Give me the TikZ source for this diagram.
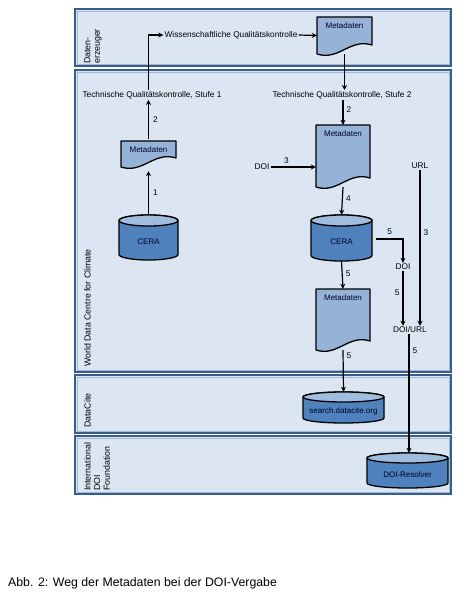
\documentclass[tikz,border=0pt]{standalone}
\usepackage{fontspec}
\setmainfont{Liberation Sans}
\usetikzlibrary{arrows.meta,calc}
\definecolor{lanefill}{RGB}{220,230,242}
\definecolor{laneline}{RGB}{56,93,138}
\definecolor{laneinner}{RGB}{160,185,215}
\definecolor{docfill}{RGB}{149,179,215}
\definecolor{cylbody}{RGB}{79,129,189}
\definecolor{cyltop}{RGB}{160,188,222}
\tikzset{
  lane/.style={draw=laneline,line width=1.3pt,fill=lanefill},
  laneinnerline/.style={draw=laneinner,line width=0.5pt},
  lanelabel/.style={rotate=90,anchor=north west,align=left,font=\fontsize{8.8}{9.6}\selectfont,inner sep=0pt},
  txt/.style={font=\fontsize{8.3}{9.6}\selectfont,inner sep=1pt},
  shapetxt/.style={font=\fontsize{8}{9}\selectfont,text=black!85!blue,inner sep=0pt},
  box/.style={inner sep=0pt,draw=none},
  outline/.style={draw=black,line width=1.3pt},
  arr/.style={draw=black,line width=1.2pt,-{Stealth[length=5pt,width=5pt]}},
  ln/.style={draw=black,line width=1.2pt},
  num/.style={font=\fontsize{8.3}{9.6}\selectfont,inner sep=0pt}
}
% document shape: name, x1, y1, x2, y2 (pixel coords, y downward)
\newcommand\docshape[5]{%
  \pgfmathsetmacro\dw{#4-#2}%
  \pgfmathsetmacro\dh{#5-#3}%
  \node[box,minimum width=\dw pt,minimum height=\dh pt] (#1) at ({(#2+#4)/2},{-(#3+#5)/2}) {};
  \filldraw[outline,fill=docfill,line join=round]
    (#2,-#3) -- (#4,-#3) -- (#4,{-(#5-9)})
    .. controls ({#2+0.6*\dw},{-(#5-16)}) and ({#2+0.4*\dw},{-(#5+7)}) .. (#2,-#5) -- cycle;
  \node[shapetxt] at ({(#2+#4)/2},{-(#3+8.5)}) {Metadaten};
}
% cylinder: name, x1, y1, x2, y2, text, ry
\newcommand\cylshape[7]{%
  \pgfmathsetmacro\cw{#4-#2}%
  \pgfmathsetmacro\ch{#5-#3}%
  \pgfmathsetmacro\rx{(#4-#2)/2}%
  \node[box,minimum width=\cw pt,minimum height=\ch pt] (#1) at ({(#2+#4)/2},{-(#3+#5)/2}) {};
  \filldraw[outline,fill=cylbody]
    (#2,{-(#3+#7)}) -- (#2,{-(#5-#7)})
    arc[start angle=180,end angle=360,x radius=\rx,y radius=#7]
    -- (#4,{-(#3+#7)})
    arc[start angle=0,end angle=180,x radius=\rx,y radius=#7] -- cycle;
  \filldraw[outline,fill=cyltop] ({(#2+#4)/2},{-(#3+#7)}) ellipse[x radius=\rx,y radius=#7];
  \node[shapetxt] at ({(#2+#4)/2},{-(#3+#5)/2-4}) {#6};
}
\begin{document}
\begin{tikzpicture}[x=1pt,y=1pt]
\useasboundingbox (0,0) rectangle (463,-596);
\fill[white] (0,0) rectangle (463,-596);
% lanes
\path[lane] (75,-9) rectangle (451,-66);
\path[laneinnerline] (77,-11) rectangle (449,-64);
\path[lane] (75,-70) rectangle (451,-372);
\path[laneinnerline] (77,-72) rectangle (449,-370);
\path[lane] (75,-375) rectangle (451,-433);
\path[laneinnerline] (77,-377) rectangle (449,-431);
\path[lane] (75,-436) rectangle (451,-494);
\path[laneinnerline] (77,-438) rectangle (449,-492);
\node[lanelabel] (lab1) at (84,-64) {Daten-\\erzeuger};
\node[lanelabel] (lab2) at (84,-367) {World Data Centre for Climate};
\node[lanelabel] (lab3) at (84,-428) {DataCite};
\node[lanelabel] (lab4) at (84,-491) {International\\DOI\\Foundation};
% texts
\node[txt] (wq) at (231,-35) {Wissenschaftliche Qualitätskontrolle};
\node[txt] (tq1) at (152,-95) {Technische Qualitätskontrolle, Stufe 1};
\node[txt] (tq2) at (342,-95) {Technische Qualitätskontrolle, Stufe 2};
\node[txt] (doiL) at (262,-167) {DOI};
\node[txt] (url) at (420,-166) {URL};
\node[txt] (doi2) at (403,-267) {DOI};
\node[txt] (doiurl) at (410,-330) {DOI/URL};
% shapes
\docshape{md0}{317}{17}{372}{54}
\docshape{md1}{121}{141}{176}{167}
\docshape{md2}{316}{125}{370}{187}
\docshape{md3}{316}{289}{370}{350}
\cylshape{cera1}{119}{215}{178}{260}{CERA}{5.5}
\cylshape{cera2}{311}{215}{372}{261}{CERA}{5.5}
\cylshape{sdo}{303}{392}{384}{423}{search.datacite.org}{5}
\cylshape{res}{367}{453}{448}{488}{DOI-Resolver}{5}
% connectors
\draw[arr] (cera1.north) -- ($(md1.south)+(0,-4)$) node[num,pos=0.5,right=4pt] {1};
\draw[arr] ($(md1.north)+(0,2)$) -- (md1.north |- tq1.south) node[num,pos=0.5,right=4pt] {2};
\draw[arr] (md1.north |- tq1.north) |- (wq.west);
\draw[arr] (wq.east) -- (md0.west);
\draw[arr] (md0.south) -- (md0.south |- tq2.north);
\draw[arr] (md2.north |- tq2.south) -- (md2.north) node[num,pos=0.4,right=3pt] {2};
\draw[arr] (doiL.east) -- (doiL.east -| md2.west) node[num,pos=0.35,above=3pt] {3};
\draw[arr] (md2.south) -- (cera2.north) node[num,pos=0.4,right=3pt] {4};
\draw[arr] ($(cera2.east)+(4,-1)$) -| (doi2.north) node[num,pos=0.25,above=4pt] {5};
\draw[arr] (cera2.south) -- (md3.north) node[num,pos=0.45,right=3pt] {5};
\draw[arr] (doi2.south) -- (doi2.south |- doiurl.north) node[num,pos=0.4,left=3pt] {5};
\draw[arr] (url.south) -- (url.south |- doiurl.north) node[num,pos=0.4,right=3pt] {3};
\draw[arr] (md3.south) -- (sdo.north) node[num,pos=0.12,right=3pt] {5};
\draw[arr] ($(doiurl.south)+(-1,0)$) -- ($(doiurl.south |- res.north)+(-1,0)$) node[num,pos=0.14,right=3pt] {5};
% caption
\node[anchor=west,inner sep=0pt,font=\fontsize{12.3}{14}\selectfont] (cap) at (8,-583) {Abb. 2: Weg der Metadaten bei der DOI-Vergabe};
\end{tikzpicture}
\end{document}
